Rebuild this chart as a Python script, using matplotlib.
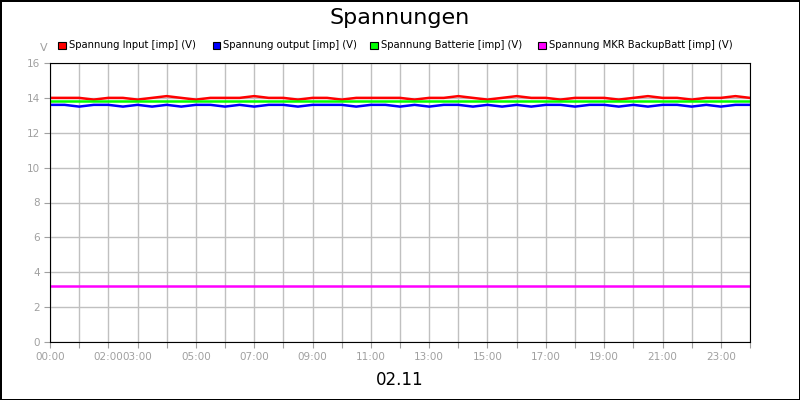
import matplotlib.pyplot as plt
import numpy as np

# half-hour samples, 00:00 .. 24:00 (hours)
hours = np.arange(0, 24.01, 0.5)
v_input = [14.0, 14.0, 14.0, 13.9, 14.0, 14.0, 13.9, 14.0, 14.1, 14.0, 13.9, 14.0,
           14.0, 14.0, 14.1, 14.0, 14.0, 13.9, 14.0, 14.0, 13.9, 14.0, 14.0, 14.0,
           14.0, 13.9, 14.0, 14.0, 14.1, 14.0, 13.9, 14.0, 14.1, 14.0, 14.0, 13.9,
           14.0, 14.0, 14.0, 13.9, 14.0, 14.1, 14.0, 14.0, 13.9, 14.0, 14.0, 14.1, 14.0]
v_output = [13.6, 13.6, 13.5, 13.6, 13.6, 13.5, 13.6, 13.5, 13.6, 13.5, 13.6, 13.6,
            13.5, 13.6, 13.5, 13.6, 13.6, 13.5, 13.6, 13.6, 13.6, 13.5, 13.6, 13.6,
            13.5, 13.6, 13.5, 13.6, 13.6, 13.5, 13.6, 13.5, 13.6, 13.5, 13.6, 13.6,
            13.5, 13.6, 13.6, 13.5, 13.6, 13.5, 13.6, 13.6, 13.5, 13.6, 13.5, 13.6, 13.6]
v_batt = [13.8] * 49
v_mkr = [3.2] * 49

tick_hours = [0, 2, 3, 5, 7, 9, 11, 13, 15, 17, 19, 21, 23]

fig = plt.figure(figsize=(8, 4), dpi=100)
fig.patch.set_edgecolor("black")
fig.patch.set_linewidth(2)
ax = fig.add_axes([0.0625, 0.145, 0.875, 0.6975])

ax.plot(hours, v_input, color="#ff0000", lw=1.8)
ax.plot(hours, v_output, color="#0000ff", lw=1.8)
ax.plot(hours, v_batt, color="#00ff00", lw=1.8)
ax.plot(hours, v_mkr, color="#ff00ff", lw=1.8)

ax.set_xlim(0, 24)
ax.set_ylim(0, 16)
ax.set_xticks(range(25))
ax.set_xticklabels(["%02d:00" % h if h in tick_hours else "" for h in range(25)])
ax.set_yticks(range(0, 17, 2))
ax.grid(True, color="#c0c0c0", lw=1)
ax.tick_params(colors="#a0a0a0", labelsize=7.5, length=4)
for side in ["top", "right", "left", "bottom"]:
    ax.spines[side].set_color("black")

fig.text(0.5, 0.955, "Spannungen", ha="center", va="center", fontsize=16)
fig.text(0.055, 0.88, "V", ha="center", va="center", fontsize=8, color="#a0a0a0")
fig.text(0.5, 0.05, "02.11", ha="center", va="center", fontsize=12)

names = ["Spannung Input [imp] (V)", "Spannung output [imp] (V)",
         "Spannung Batterie [imp] (V)", "Spannung MKR BackupBatt [imp] (V)"]
colors = ["#ff0000", "#0000ff", "#00ff00", "#ff00ff"]
xs = [0.073, 0.266, 0.463, 0.673]
for x, n, c in zip(xs, names, colors):
    fig.patches.append(plt.Rectangle((x, 0.878), 0.009, 0.018, transform=fig.transFigure,
                                     facecolor=c, edgecolor="black", lw=0.8, figure=fig))
    fig.text(x + 0.013, 0.888, n, fontsize=7.2, va="center", ha="left")

fig.savefig("out.png")
